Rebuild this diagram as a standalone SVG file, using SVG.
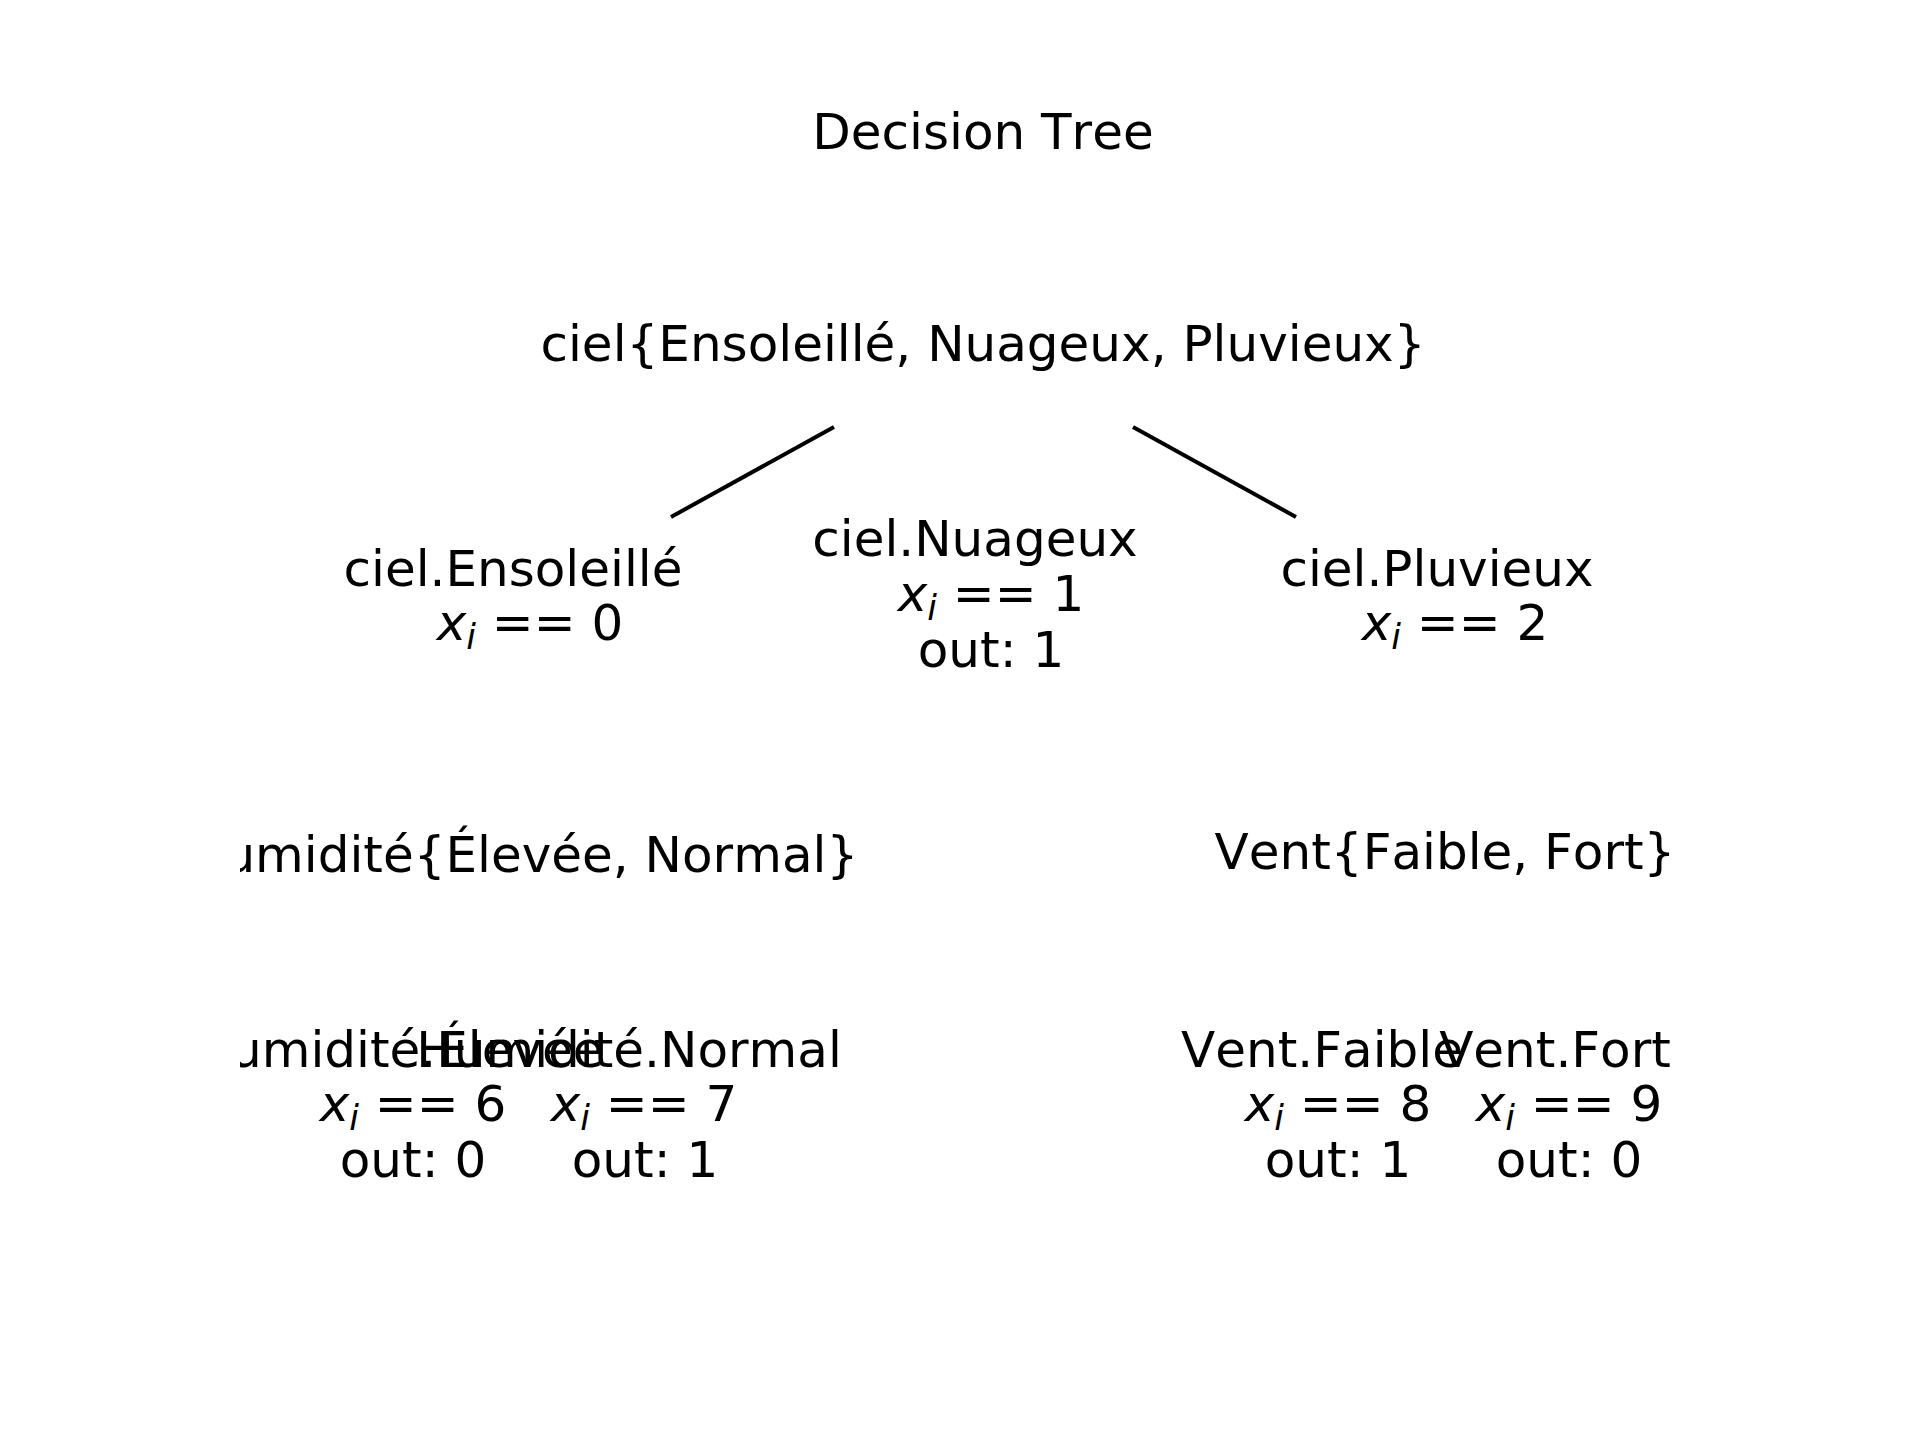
<svg xmlns="http://www.w3.org/2000/svg" width="1920" height="1440" viewBox="0 0 1920 1440">
<style>
text{font-family:"DejaVu Sans",sans-serif;font-size:50px;fill:#000;text-anchor:middle;font-kerning:none}
.it{font-style:italic}
.sub{font-style:italic;font-size:35px}
.edge{stroke:#000;stroke-width:4;fill:none}
</style>
<defs>
<clipPath id="ax"><rect x="240" y="173" width="1488" height="1109"/></clipPath>
</defs>
<rect width="1920" height="1440" fill="#fff"/>
<text id="title" x="983" y="149">Decision Tree</text>
<g clip-path="url(#ax)">
<g id="connectors">
<line class="edge" x1="834" y1="427" x2="671" y2="517"/>
<line class="edge" x1="1133" y1="427" x2="1296" y2="517"/>
</g>
<g id="root"><text x="983" y="361">ciel{Ensoleillé, Nuageux, Pluvieux}</text></g>
<g id="ensoleille">
<text x="513" y="586">ciel.Ensoleillé</text>
<text x="530" y="640"><tspan class="it">x</tspan><tspan class="sub" dy="9">i</tspan><tspan dy="-9"> == 0</tspan></text>
</g>
<g id="nuageux">
<text x="975" y="556">ciel.Nuageux</text>
<text x="991" y="611"><tspan class="it">x</tspan><tspan class="sub" dy="9">i</tspan><tspan dy="-9"> == 1</tspan></text>
<text x="991" y="667">out: 1</text>
</g>
<g id="pluvieux">
<text x="1437" y="586">ciel.Pluvieux</text>
<text x="1455" y="640"><tspan class="it">x</tspan><tspan class="sub" dy="9">i</tspan><tspan dy="-9"> == 2</tspan></text>
</g>
<g id="humidite"><text x="522" y="872">Humidité{Élevée, Normal}</text></g>
<g id="vent"><text x="1445" y="869">Vent{Faible, Fort}</text></g>
<g id="humidite-elevee">
<text x="398" y="1067">Humidité.Élevée</text>
<text x="413" y="1121"><tspan class="it">x</tspan><tspan class="sub" dy="9">i</tspan><tspan dy="-9"> == 6</tspan></text>
<text x="413" y="1177">out: 0</text>
</g>
<g id="humidite-normal">
<text x="629" y="1067">Humidité.Normal</text>
<text x="644" y="1121"><tspan class="it">x</tspan><tspan class="sub" dy="9">i</tspan><tspan dy="-9"> == 7</tspan></text>
<text x="645" y="1177">out: 1</text>
</g>
<g id="vent-faible">
<text x="1322" y="1067">Vent.Faible</text>
<text x="1338" y="1121"><tspan class="it">x</tspan><tspan class="sub" dy="9">i</tspan><tspan dy="-9"> == 8</tspan></text>
<text x="1338" y="1177">out: 1</text>
</g>
<g id="vent-fort">
<text x="1555" y="1067">Vent.Fort</text>
<text x="1569" y="1121"><tspan class="it">x</tspan><tspan class="sub" dy="9">i</tspan><tspan dy="-9"> == 9</tspan></text>
<text x="1569" y="1177">out: 0</text>
</g>
</g>
</svg>
